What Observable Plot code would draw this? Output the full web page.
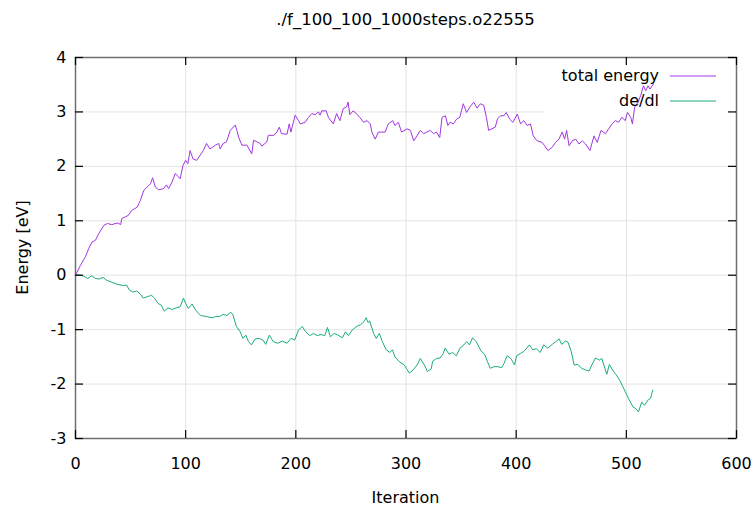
<!DOCTYPE html>
<html><head><meta charset="utf-8">
<script src="https://cdn.jsdelivr.net/npm/d3@7"></script>
<script src="https://cdn.jsdelivr.net/npm/@observablehq/plot@0.6"></script>
<style>body{margin:0;background:#fff} svg{display:block}</style>
</head><body><div id="chart"></div>
<script>
const title = "./f_100_100_1000steps.o22555";
const xLabel = "Iteration";
const yLabel = "Energy [eV]";
const seriesNames = ["total energy", "de/dl"];
const seriesColors = ["#a136e2", "#1aab82"];
const xTicks = [0, 100, 200, 300, 400, 500, 600];
const yTicks = [-3, -2, -1, 0, 1, 2, 3, 4];

const totalEnergyX = [0,4.5,9,12,15,18,21,24,26,29,33,38,41,42,45,48,51,56,59,62,65,68,70,72.5,75.5,80,82.5,84.5,87.6,90.6,93.7,95,97.6,100,102,104,106.6,110,114,116,119,122,127,130,131.4,134,137,140.5,145,146.5,148,151,155.6,160,161.6,164.7,167.7,169,173.7,175,180,182.8,185,187,192,194,195.5,199.4,202.4,204,208.5,211.5,214.5,217.5,220.5,222,223.5,227.5,229.6,234,237,240,243,246,247.4,249,252,255,258,261.5,264.5,267.6,269,272,275,278,281,284,288,290,293,296,301,304,307,310,313,316,319,322,325,327.6,330.6,332.7,335.8,338,340,343,346,348.8,352,355,358,361.5,364.5,367.6,370.6,373,375,378,381,383,385.8,388.8,391,394,397,401,404,407,410,413,415.5,419,423.6,425.8,428.8,432.7,435.8,438.8,441.8,444,445.8,448,451,454,457,460,463,467,470.6,473.6,477,481,484,487,490,493,496,499,501,504,505.5,507.6,510.6,513,515.5,517.6,519.7,521.5,524.5];
const totalEnergyY = [0,0.18,0.34,0.49,0.61,0.64,0.76,0.86,0.92,0.95,0.93,0.96,0.93,1.04,1.07,1.10,1.19,1.25,1.38,1.56,1.62,1.68,1.79,1.62,1.57,1.59,1.66,1.59,1.71,1.87,1.80,1.77,2.02,2.11,2.05,2.29,2.14,2.11,2.23,2.29,2.42,2.32,2.39,2.42,2.32,2.42,2.45,2.66,2.76,2.66,2.54,2.39,2.39,2.23,2.48,2.45,2.42,2.37,2.45,2.57,2.57,2.63,2.72,2.60,2.59,2.78,2.63,2.94,2.84,2.78,2.81,2.90,2.97,2.95,3.00,2.94,3.02,3.02,2.90,2.78,2.97,2.84,3.06,3.09,3.18,2.95,3.02,2.97,2.90,2.81,2.84,2.78,2.63,2.50,2.63,2.63,2.63,2.78,2.84,2.75,2.81,2.63,2.69,2.66,2.47,2.56,2.66,2.60,2.63,2.66,2.60,2.63,2.53,2.90,2.93,2.75,2.81,2.78,2.87,2.90,3.15,2.99,3.09,3.18,3.07,3.15,3.12,2.90,2.66,2.69,2.72,2.87,2.93,2.93,2.99,2.87,2.81,2.96,2.78,2.84,2.75,2.78,2.56,2.47,2.44,2.38,2.29,2.35,2.44,2.50,2.63,2.50,2.66,2.38,2.47,2.50,2.41,2.47,2.41,2.29,2.56,2.44,2.66,2.60,2.69,2.78,2.84,2.81,2.90,2.84,2.99,2.90,2.78,3.09,3.18,3.30,3.48,3.39,3.48,3.42,3.51];

const dedlX = [0,2.7,7.8,11,14.7,18,21.5,25,28,33,38.6,43.7,46.4,48.8,52,55.6,59,61.4,66,69,71.7,75,77.8,80.5,84,87.4,91.5,95,98,100,102.4,105.8,109,113.6,118.8,124,127.3,130.7,134,137.5,141,143,146,149.5,152,154.6,157,159.7,163,166.5,170,172.7,176,179.5,183.6,187.7,192,195.6,199,202.4,205.8,209,212.6,216,219.5,222.9,226.3,228.7,231.4,234.8,238.2,242.3,245,247.8,251,255.3,258.7,262,263.8,265.5,267,270.6,273,275.8,278.5,282,285.3,287.7,290,294.5,298,300.3,303,306.5,310,313,316.7,319.5,322.9,324.2,327.6,331,333.8,335.5,339,342.3,345.7,349,352.6,355,357.7,360.4,363.8,368,371.3,374,376.5,380,383.4,386.8,389,391.8,395.2,398.6,400.3,403.7,407,409.6,412,415,418.4,421.8,425,428.7,432.8,436,439,441.3,444.7,447,450,452.6,456,459.4,462.8,466.2,468.6,472,475.4,477.8,480.5,482.3,484.6,487.4,490.8,494,496.9,499.7,502.7,506,508.5,511,514,516.4,519.8,522,524];
const dedlY = [0,0.01,-0.02,-0.06,-0.01,-0.06,-0.07,-0.04,-0.09,-0.13,-0.17,-0.19,-0.18,-0.27,-0.31,-0.29,-0.35,-0.42,-0.39,-0.37,-0.42,-0.52,-0.55,-0.66,-0.60,-0.63,-0.60,-0.58,-0.42,-0.52,-0.61,-0.53,-0.64,-0.74,-0.76,-0.78,-0.76,-0.76,-0.72,-0.74,-0.68,-0.73,-0.94,-1.04,-1.16,-1.10,-1.22,-1.28,-1.17,-1.16,-1.19,-1.27,-1.10,-1.22,-1.25,-1.21,-1.25,-1.16,-1.19,-1.01,-0.94,-1.04,-1.11,-1.07,-1.11,-1.09,-1.11,-0.96,-1.13,-1.07,-1.10,-1.15,-1.04,-1.11,-1.01,-0.94,-0.91,-0.85,-0.78,-0.87,-0.84,-1.07,-1.16,-1.07,-1.22,-1.37,-1.42,-1.37,-1.50,-1.60,-1.64,-1.71,-1.80,-1.74,-1.65,-1.53,-1.65,-1.77,-1.72,-1.58,-1.53,-1.52,-1.44,-1.34,-1.45,-1.42,-1.48,-1.34,-1.28,-1.22,-1.28,-1.15,-1.22,-1.39,-1.45,-1.59,-1.71,-1.68,-1.68,-1.70,-1.62,-1.48,-1.53,-1.65,-1.48,-1.44,-1.40,-1.34,-1.28,-1.37,-1.35,-1.42,-1.28,-1.34,-1.27,-1.22,-1.17,-1.27,-1.21,-1.23,-1.40,-1.65,-1.64,-1.71,-1.74,-1.76,-1.65,-1.52,-1.56,-1.53,-1.71,-1.82,-1.64,-1.74,-1.83,-1.93,-2.05,-2.17,-2.29,-2.42,-2.45,-2.51,-2.33,-2.39,-2.29,-2.26,-2.11];

const W = 755, H = 509, mL = 75, mR = 19, mT = 57, mB = 71;
const pw = W - mL - mR, ph = H - mT - mB;
const tickLen = 8;

const rows = [
  ...totalEnergyX.map((x, i) => ({series: seriesNames[0], x, y: totalEnergyY[i]})),
  ...dedlX.map((x, i) => ({series: seriesNames[1], x, y: dedlY[i]}))
];
const fmt = d => String(d);

const chart = Plot.plot({
  width: W, height: H,
  marginLeft: mL, marginRight: mR, marginTop: mT, marginBottom: mB,
  x: {domain: [0, 600]},
  y: {domain: [-3, 4]},
  color: {domain: seriesNames, range: seriesColors},
  style: {fontFamily: "'DejaVu Sans', sans-serif", fontSize: "16px", background: "#fff", color: "#000"},
  marks: [
    Plot.gridX(xTicks, {stroke: "#e3e3e3", strokeOpacity: 1, strokeWidth: 1}),
    Plot.gridY(yTicks, {stroke: "#e3e3e3", strokeOpacity: 1, strokeWidth: 1}),
    Plot.line(rows, {x: "x", y: "y", z: "series", stroke: "series", strokeWidth: 1}),
    Plot.frame({stroke: "#6f6f6f", strokeWidth: 1.5}),
    Plot.tickY(yTicks, {y: d => d, insetRight: pw - tickLen, stroke: "#000", strokeWidth: 1.2}),
    Plot.tickY(yTicks, {y: d => d, insetLeft: pw - tickLen, stroke: "#000", strokeWidth: 1.2}),
    Plot.tickX(xTicks, {x: d => d, insetTop: ph - tickLen, stroke: "#000", strokeWidth: 1.2}),
    Plot.tickX(xTicks, {x: d => d, insetBottom: ph - tickLen, stroke: "#000", strokeWidth: 1.2}),
    Plot.axisX(xTicks, {tickSize: 0, tickPadding: 19, tickFormat: fmt, label: null}),
    Plot.axisY(yTicks, {tickSize: 0, tickPadding: 9, tickFormat: fmt, label: null})
  ]
});

const svg = d3.select(chart);
// legend background (opaque key box)
const lineG = chart.querySelector('[aria-label="line"]');
const bg = document.createElementNS("http://www.w3.org/2000/svg", "rect");
bg.setAttribute("x", 545); bg.setAttribute("y", mT + 1);
bg.setAttribute("width", W - mR - 545 - 1); bg.setAttribute("height", 113 - mT);
bg.setAttribute("fill", "#fff");
chart.insertBefore(bg, lineG);

const font = "'DejaVu Sans', sans-serif";
svg.append("text").attr("x", mL + pw / 2).attr("y", 25).attr("text-anchor", "middle")
  .attr("font-family", font).attr("font-size", 16.5).attr("fill", "#000").text(title);
svg.append("text").attr("x", mL + pw / 2).attr("y", 503).attr("text-anchor", "middle")
  .attr("font-family", font).attr("font-size", 16).attr("fill", "#000").text(xLabel);
svg.append("text").attr("transform", `translate(28,${mT + ph / 2}) rotate(-90)`).attr("text-anchor", "middle")
  .attr("font-family", font).attr("font-size", 16).attr("fill", "#000").text(yLabel);

seriesNames.forEach((name, i) => {
  const yb = 81 + i * 25;
  svg.append("text").attr("x", 659).attr("y", yb).attr("text-anchor", "end")
    .attr("font-family", font).attr("font-size", 16).attr("fill", "#000").text(name);
  svg.append("line").attr("x1", 670).attr("x2", 716).attr("y1", yb - 5).attr("y2", yb - 5)
    .attr("stroke", seriesColors[i]).attr("stroke-width", 1);
});

document.getElementById("chart").appendChild(chart);
</script>
</body></html>
